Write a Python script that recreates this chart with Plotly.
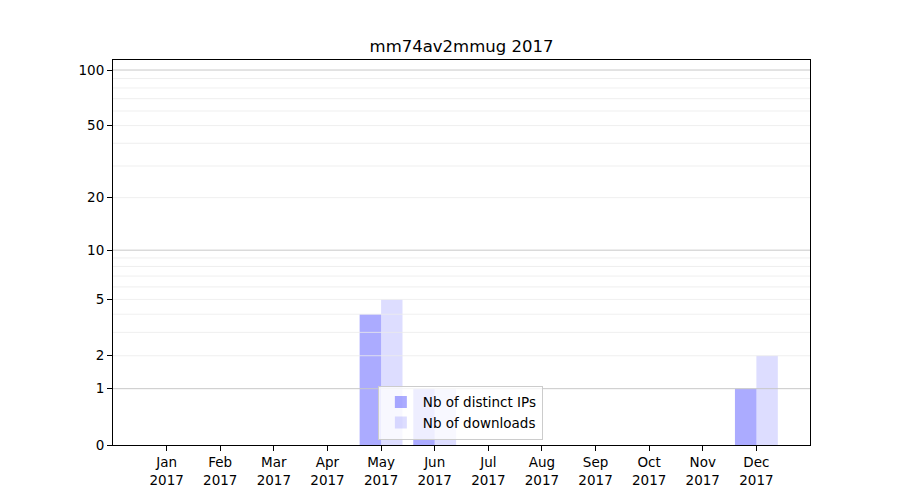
import math
import plotly.graph_objects as go

months = ["Jan", "Feb", "Mar", "Apr", "May", "Jun", "Jul", "Aug", "Sep", "Oct", "Nov", "Dec"]
year = "2017"
ips = [0, 0, 0, 0, 4, 1, 0, 0, 0, 0, 0, 1]
downloads = [0, 0, 0, 0, 5, 1, 0, 0, 0, 0, 0, 2]
ytick_vals = [0, 1, 2, 5, 10, 20, 50, 100]
major_grid = [1, 10, 100]
minor_grid = [2, 3, 4, 5, 6, 7, 8, 9, 20, 30, 40, 50, 60, 70, 80, 90]
title = "mm74av2mmug 2017"


def tr(v):
    # log(1+x) axis scale
    return math.log10(1 + v)


xpos = list(range(len(months)))

fig = go.Figure()
fig.add_trace(go.Bar(
    x=xpos, y=[tr(v) for v in ips], name="Nb of distinct IPs",
    marker=dict(color="rgba(0,0,255,0.33)", line=dict(width=0)),
    customdata=ips, hovertemplate="%{customdata}<extra></extra>",
))
fig.add_trace(go.Bar(
    x=xpos, y=[tr(v) for v in downloads], name="Nb of downloads",
    marker=dict(color="rgba(0,0,255,0.135)", line=dict(width=0)),
    customdata=downloads, hovertemplate="%{customdata}<extra></extra>",
))

shapes = []
for v in minor_grid:
    shapes.append(dict(type="line", xref="paper", yref="y", x0=0, x1=1, y0=tr(v), y1=tr(v),
                       line=dict(color="#ebebeb", width=0.8), layer="above"))
for v in major_grid:
    shapes.append(dict(type="line", xref="paper", yref="y", x0=0, x1=1, y0=tr(v), y1=tr(v),
                       line=dict(color="#c8c8c8", width=1), layer="above"))

font = "DejaVu Sans"
fig.update_layout(
    width=900, height=500,
    margin=dict(l=113, r=90, t=60, b=55),
    paper_bgcolor="white", plot_bgcolor="white",
    barmode="group", bargap=0.2, bargroupgap=0,
    title=dict(text=title, x=(113 + 810) / 2 / 900, xanchor="center", y=1 - 46 / 500, yanchor="middle",
               font=dict(family=font, size=16.5, color="black")),
    font=dict(family=font, size=13.5, color="black"),
    shapes=shapes,
    showlegend=True,
    legend=dict(x=0.380, y=0.014, xanchor="left", yanchor="bottom",
                bgcolor="rgba(255,255,255,0.8)", bordercolor="#cccccc", borderwidth=1,
                font=dict(family=font, size=13.5, color="black"),
                itemwidth=34, tracegroupgap=2),
)
fig.update_xaxes(
    range=[-1, 12], tickmode="array", tickvals=xpos,
    ticktext=[f"{m}<br>{year}" for m in months],
    showgrid=False, zeroline=False,
    showline=True, linecolor="black", linewidth=1, mirror=True,
    ticks="outside", ticklen=5, tickcolor="black", tickwidth=1,
)
fig.update_yaxes(
    range=[0, 2.058], tickmode="array", tickvals=[tr(v) for v in ytick_vals],
    ticktext=[str(v) for v in ytick_vals],
    showgrid=False, zeroline=False,
    showline=True, linecolor="black", linewidth=1, mirror=True,
    ticks="outside", ticklen=5, tickcolor="black", tickwidth=1,
)

fig.write_html("out.html", config={"displayModeBar": False},
               post_script="document.body.style.margin='0';")
